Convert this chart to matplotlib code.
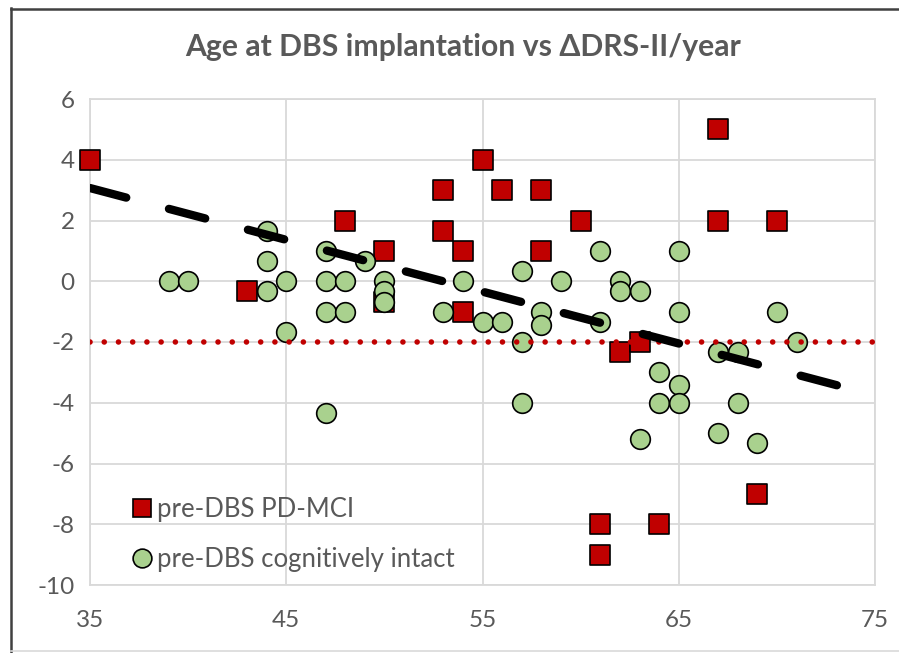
import numpy as np
import matplotlib
matplotlib.use("Agg")
import matplotlib.pyplot as plt
from matplotlib.lines import Line2D

plt.rcParams['font.family'] = ['Lato', 'DejaVu Sans']
plt.rcParams['axes.unicode_minus'] = False

# pre-DBS PD-MCI
mci_age = [35, 43, 48, 50, 50, 53, 53, 54, 54, 55, 56, 58, 58, 60,
           61, 61, 62, 63, 64, 67, 67, 69, 70]
mci_drs = [4, -0.33, 2, 1, -0.67, 3, 1.67, 1, -1, 4, 3, 3, 1, 2,
           -8, -9, -2.33, -2, -8, 5, 2, -7, 2]

# pre-DBS cognitively intact
intact_age = [39, 40, 44, 44, 44, 45, 45, 47, 47, 47, 47, 48, 48, 49,
              50, 50, 50, 53, 54, 55, 56, 57, 57, 57, 58, 58, 59, 61,
              61, 62, 62, 63, 63, 64, 64, 65, 65, 65, 65, 67, 67, 68,
              68, 69, 70, 71]
intact_drs = [0, 0, 1.67, 0.67, -0.33, 0, -1.67, 1, 0, -1, -4.33, 0, -1, 0.67,
              0, -0.33, -0.67, -1, 0, -1.33, -1.33, 0.33, -2, -4, -1, -1.43, 0, 1,
              -1.33, 0, -0.33, -0.33, -5.2, -3, -4, 1, -1, -3.4, -4, -2.33, -5, -2.33,
              -4, -5.33, -1, -2]

threshold = -2
# linear trendline as shown in the chart
trend_slope = -0.1706
trend_intercept = 9.04
trend_range = [35, 73.5]

red = '#C00000'
green = '#A9D18E'
grey = '#595959'

fig = plt.figure(figsize=(8.99, 6.53), dpi=100)
ax = fig.add_axes([90 / 899, 1 - 585 / 653, 785 / 899, 486 / 653])

ax.scatter(mci_age, mci_drs, marker='s', s=190, c=red, edgecolors='black',
           linewidths=1.2, zorder=3, clip_on=False, label='pre-DBS PD-MCI')
ax.scatter(intact_age, intact_drs, marker='o', s=200, c=green, edgecolors='black',
           linewidths=1.2, zorder=4, clip_on=False, label='pre-DBS cognitively intact')

# threshold line
ax.axhline(threshold, color=red, lw=4.0, linestyle=(0, (0.01, 2.55)),
           dash_capstyle='round', zorder=5)

tx = np.array(trend_range)
trend, = ax.plot(tx, trend_slope * tx + trend_intercept, color='black', lw=6.0,
                 zorder=6)
trend.set_dashes((4.5, 5.3))
trend.set_dash_capstyle('round')

ax.set_xlim(35, 75)
ax.set_ylim(-10, 6)
ax.set_xticks(range(35, 76, 10))
ax.set_yticks(range(-10, 7, 2))
ax.grid(True, color='#D9D9D9', lw=1.3, zorder=0)
ax.set_axisbelow(True)
for s in ax.spines.values():
    s.set_color('#D9D9D9')
    s.set_linewidth(1.3)
ax.tick_params(length=0, labelsize=17.5, labelcolor=grey)
ax.tick_params(axis='x', pad=18)
ax.tick_params(axis='y', pad=11)

fig.text(463 / 899, 1 - 47 / 653, 'Age at DBS implantation vs ΔDRS-II/year',
         fontsize=21.7, fontweight='bold', color=grey, ha='center', va='center')

handles = [Line2D([], [], marker='s', ls='none', ms=13, mfc=red, mec='black', mew=1.2),
           Line2D([], [], marker='o', ls='none', ms=13.5, mfc=green, mec='black', mew=1.2)]
leg = ax.legend(handles, ['pre-DBS PD-MCI', 'pre-DBS cognitively intact'],
                loc='lower left', bbox_to_anchor=(0.02, -0.02), frameon=False,
                fontsize=18.5, handletextpad=0.1, handlelength=1.0,
                labelspacing=0.95, labelcolor=grey)

# chart border
fig.add_artist(Line2D([11 / 899, 11 / 899], [1 - 8 / 653, 0], color='#404040', lw=1.8))
fig.add_artist(Line2D([11 / 899, 1], [1 - 8.5 / 653, 1 - 8.5 / 653], color='#404040', lw=1.8))
fig.add_artist(Line2D([11 / 899, 1], [2 / 653, 2 / 653], color='#D9D9D9', lw=1.2))

fig.savefig('out.png', dpi=100)
